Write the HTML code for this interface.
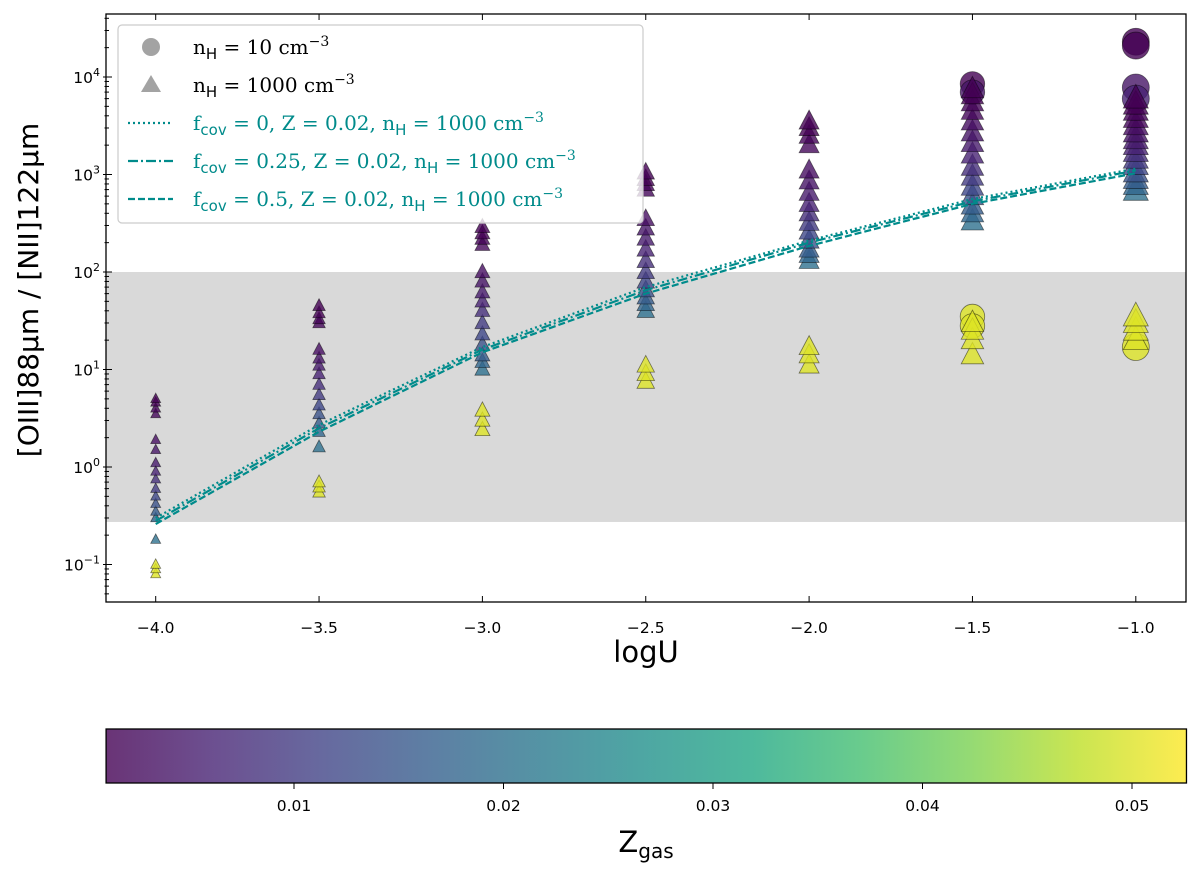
<!DOCTYPE html>
<html><head><meta charset="utf-8"><style>
body{margin:0;background:#fff;}
svg{display:block;font-family:"DejaVu Sans","Liberation Sans",sans-serif;}
.ser{font-family:"DejaVu Serif","Liberation Serif",serif;}
</style></head><body>
<svg id="chart" width="1200" height="875" viewBox="0 0 1200 875" xmlns="http://www.w3.org/2000/svg">
<defs>
<linearGradient id="vir" x1="0" x2="1" y1="0" y2="0">
<stop offset="0" stop-color="#440154"/><stop offset="0.1" stop-color="#482475"/><stop offset="0.2" stop-color="#414487"/><stop offset="0.3" stop-color="#355f8d"/><stop offset="0.4" stop-color="#2a788e"/><stop offset="0.5" stop-color="#21918c"/><stop offset="0.6" stop-color="#22a884"/><stop offset="0.7" stop-color="#44bf70"/><stop offset="0.8" stop-color="#7ad151"/><stop offset="0.9" stop-color="#bddf26"/><stop offset="1" stop-color="#fde725"/>
</linearGradient>
<clipPath id="pc"><rect x="106" y="14" width="1080" height="588"/></clipPath>
</defs>
<g id="plot"></g>
<g id="axes"></g>
<g id="legend"></g>
<g id="cbar"></g>
</svg>
<script>
const logU = [-4.0, -3.5, -3.0, -2.5, -2.0, -1.5, -1.0];
const zList = [0.0005, 0.001, 0.0015, 0.002, 0.003, 0.004, 0.005, 0.006, 0.008, 0.01, 0.012, 0.014, 0.016, 0.018, 0.02];
const triVals = [
 [5, 4.6, 4, 3.5, 1.9, 1.5, 1.1, 0.9, 0.75, 0.6, 0.5, 0.42, 0.35, 0.3, 0.18],
 [45, 38, 33, 30, 16, 13, 11, 9, 7, 5.5, 4.3, 3.5, 2.8, 2.3, 1.6],
 [290, 250, 220, 190, 100, 80, 62, 50, 40, 30, 23, 18, 14, 12, 10],
 [1050, 900, 800, 700, 350, 280, 220, 170, 130, 100, 80, 65, 55, 47, 40],
 [3500, 3000, 2500, 2000, 1100, 850, 650, 500, 400, 320, 260, 210, 170, 150, 130],
 [7500, 6500, 5500, 4500, 3500, 2700, 2100, 1600, 1200, 950, 750, 600, 480, 400, 330],
 [6000, 5200, 4500, 3800, 3200, 2700, 2300, 2000, 1700, 1450, 1250, 1050, 900, 780, 680]
];
const yellowTri = [[0.08, 0.09, 0.1], [0.55, 0.62, 0.7], [2.4, 3, 3.8], [7.5, 9, 11], [11, 14, 17], [14, 20, 25, 30], [20, 25, 30, 35]];
const circU = [-1.5, -1.5, -1.0, -1.0, -1.0, -1.0];
const circZ = [0.001, 0.004, 0.001, 0.0005, 0.004, 0.006];
const circV = [8500, 7000, 23000, 21000, 7800, 6000];
const yellowCircU = [-1.5, -1.5, -1.0];
const yellowCircV = [35, 28, 17];
const lineDot = [0.30, 2.7, 17, 70, 210, 560, 1150];
const lineDashDot = [0.28, 2.5, 16, 65, 200, 530, 1100];
const lineDash = [0.26, 2.3, 15, 60, 185, 500, 1030];
const xTicks = [-4.0, -3.5, -3.0, -2.5, -2.0, -1.5, -1.0];
const yTicks = [-1, 0, 1, 2, 3, 4];
const cbTicks = [0.01, 0.02, 0.03, 0.04, 0.05];
const bandLo = 0.273, bandHi = 100;
const zMin = 0.00103, zMax = 0.0526, zYellow = 0.05;

const NS = "http://www.w3.org/2000/svg";
function X(u){ return 155.7 + (u + 4) * 326.7; }
function Y(v){ return 272 - 97.5 * (Math.log10(v) - 2); }
function CX(z){ return 84.5 + z * 20950; }
const vs = ["#440154","#482475","#414487","#355f8d","#2a788e","#21918c","#22a884","#44bf70","#7ad151","#bddf26","#fde725"];
function vir(z){
  let t = Math.max(0, Math.min(1, (z - zMin) / (zMax - zMin))) * 10;
  let i = Math.min(9, Math.floor(t)), f = t - i;
  const a = vs[i], b = vs[i+1];
  const c = k => Math.round(parseInt(a.substr(k,2),16)*(1-f) + parseInt(b.substr(k,2),16)*f);
  return `rgb(${c(1)},${c(3)},${c(5)})`;
}
function mk(tag, attrs, parent){
  const e = document.createElementNS(NS, tag);
  for (const k in attrs) e.setAttribute(k, attrs[k]);
  parent.appendChild(e); return e;
}
function size(u){ return 10 + (u + 4) * 5; }
const plot = document.getElementById('plot');
const axes = document.getElementById('axes');
const leg = document.getElementById('legend');
const cb = document.getElementById('cbar');
plot.setAttribute('clip-path','url(#pc)');

const band = mk('rect', {x:106, y:Y(bandHi), width:1080, height:Y(bandLo)-Y(bandHi), fill:'#d9d9d9'}, plot);



function circle(u, v, z){
  const r = size(u)/2 + 1;
  const c = mk('circle', {cx:X(u), cy:Y(v), r:r, fill:vir(z), 'fill-opacity':0.8, stroke:'#000', 'stroke-opacity':0.5, 'stroke-width':0.8}, plot);
  
  
}
function tri(u, v, z){
  const s = size(u), cx = X(u), cy = Y(v);
  const h = s * 0.95;
  const p = mk('polygon', {points:`${cx},${cy-h*0.6} ${cx-s/2},${cy+h*0.4} ${cx+s/2},${cy+h*0.4}`, fill:vir(z), 'fill-opacity':0.8, stroke:'#000', 'stroke-opacity':0.5, 'stroke-width':0.8}, plot);
  
  
}
for (let i = 0; i < circU.length; i++) circle(circU[i], circV[i], circZ[i]);
for (let i = 0; i < yellowCircU.length; i++) circle(yellowCircU[i], yellowCircV[i], zYellow);
for (let i = 0; i < logU.length; i++){
  for (let j = zList.length - 1; j >= 0; j--) tri(logU[i], triVals[i][j], zList[j]);
  for (const v of yellowTri[i]) tri(logU[i], v, zYellow);
}
function line(vals, dash, name){
  const pts = logU.map((u,i)=>`${X(u)},${Y(vals[i])}`).join(' ');
  const l = mk('polyline', {points:pts, fill:'none', stroke:'#008b8b', 'stroke-width':2.2, 'stroke-dasharray':dash}, plot);
  
  
}
line(lineDot, '2 3', 'line-fcov-0');
line(lineDashDot, '10 3 2 3', 'line-fcov-0.25');
line(lineDash, '7 3', 'line-fcov-0.5');

const fr = mk('rect', {x:106, y:14, width:1080, height:588, fill:'none', stroke:'#000', 'stroke-width':1.3}, axes);


for (const t of xTicks){
  mk('line', {x1:X(t), x2:X(t), y1:602, y2:596, stroke:'#000', 'stroke-width':1}, axes);
  mk('line', {x1:X(t), x2:X(t), y1:14, y2:20, stroke:'#000', 'stroke-width':1}, axes);
  const tx = mk('text', {x:X(t), y:633, 'font-size':15.5, 'text-anchor':'middle'}, axes);
  tx.textContent = '\u2212' + Math.abs(t).toFixed(1);
  
  
}
for (let d = -2; d <= 4; d++){
  for (let m = 1; m <= 9; m++){
    const v = m * Math.pow(10, d), y = Y(v);
    if (y < 14 || y > 602) continue;
    const len = m === 1 ? 6 : 3;
    mk('line', {x1:106, x2:106+len, y1:y, y2:y, stroke:'#000', 'stroke-width':1}, axes);
    mk('line', {x1:106, x2:106-len/2, y1:y, y2:y, stroke:'#000', 'stroke-width':1}, axes);
  }
}
for (const e of yTicks){
  const y = Y(Math.pow(10, e));
  const tx = mk('text', {x:100, y:y+6, 'font-size':15.5, 'text-anchor':'end'}, axes);
  tx.innerHTML = `10<tspan dy="-7" font-size="11">${e < 0 ? '\u2212' + Math.abs(e) : e}</tspan>`;
  
  
}
const xt = mk('text', {x:646, y:662, 'font-size':29, 'text-anchor':'middle'}, axes);
xt.textContent = 'logU';


const yt = mk('text', {x:0, y:0, 'font-size':28, 'text-anchor':'middle', transform:'translate(38,290) rotate(-90)'}, axes);
yt.textContent = '[OIII]88\u03bcm / [NII]122\u03bcm';



const lb = mk('rect', {x:118, y:25, width:525, height:198, rx:4, fill:'#fff', 'fill-opacity':0.8, stroke:'#ccc', 'stroke-width':1.2}, leg);


const rows = [47, 85, 123, 161, 199];
const lc = mk('circle', {cx:151, cy:rows[0], r:9, fill:'#999', 'fill-opacity':0.9}, leg);


const lt = mk('polygon', {points:`151,${rows[1]-10} 141,${rows[1]+7} 161,${rows[1]+7}`, fill:'#999', 'fill-opacity':0.9}, leg);


const dashes = ['2 3', '10 3 2 3', '7 3'];
for (let i = 0; i < 3; i++){
  const l = mk('line', {x1:128, x2:173, y1:rows[i+2], y2:rows[i+2], stroke:'#008b8b', 'stroke-width':2.2, 'stroke-dasharray':dashes[i]}, leg);
  
  
}
const labels = [
 ['#000', 'n<tspan dy="5" font-size="15" font-family="DejaVu Sans">H</tspan><tspan dy="-5"> = 10 cm</tspan><tspan dy="-8" font-size="14">\u22123</tspan>'],
 ['#000', 'n<tspan dy="5" font-size="15" font-family="DejaVu Sans">H</tspan><tspan dy="-5"> = 1000 cm</tspan><tspan dy="-8" font-size="14">\u22123</tspan>'],
 ['#008b8b', 'f<tspan dy="5" font-size="15" font-family="DejaVu Sans">cov</tspan><tspan dy="-5"> = 0, Z = 0.02, n</tspan><tspan dy="5" font-size="15" font-family="DejaVu Sans">H</tspan><tspan dy="-5"> = 1000 cm</tspan><tspan dy="-8" font-size="14">\u22123</tspan>'],
 ['#008b8b', 'f<tspan dy="5" font-size="15" font-family="DejaVu Sans">cov</tspan><tspan dy="-5"> = 0.25, Z = 0.02, n</tspan><tspan dy="5" font-size="15" font-family="DejaVu Sans">H</tspan><tspan dy="-5"> = 1000 cm</tspan><tspan dy="-8" font-size="14">\u22123</tspan>'],
 ['#008b8b', 'f<tspan dy="5" font-size="15" font-family="DejaVu Sans">cov</tspan><tspan dy="-5"> = 0.5, Z = 0.02, n</tspan><tspan dy="5" font-size="15" font-family="DejaVu Sans">H</tspan><tspan dy="-5"> = 1000 cm</tspan><tspan dy="-8" font-size="14">\u22123</tspan>']
];
for (let i = 0; i < 5; i++){
  const t = mk('text', {x:193, y:rows[i]+7, 'font-size':20, fill:labels[i][0], class:'ser'}, leg);
  t.innerHTML = labels[i][1];
  
  
}

const cr = mk('rect', {x:CX(zMin), y:729, width:CX(zMax)-CX(zMin), height:54, fill:'url(#vir)', 'fill-opacity':0.8, stroke:'#000', 'stroke-width':1.3}, cb);


for (const z of cbTicks){
  mk('line', {x1:CX(z), x2:CX(z), y1:783, y2:789, stroke:'#000', 'stroke-width':1}, cb);
  const t = mk('text', {x:CX(z), y:811, 'font-size':15.5, 'text-anchor':'middle'}, cb);
  t.textContent = z.toFixed(2);
  
  
}
const zt = mk('text', {x:646, y:852, 'font-size':29, 'text-anchor':'middle'}, cb);
zt.innerHTML = 'Z<tspan dy="6" font-size="20">gas</tspan>';


</script>
</body></html>
